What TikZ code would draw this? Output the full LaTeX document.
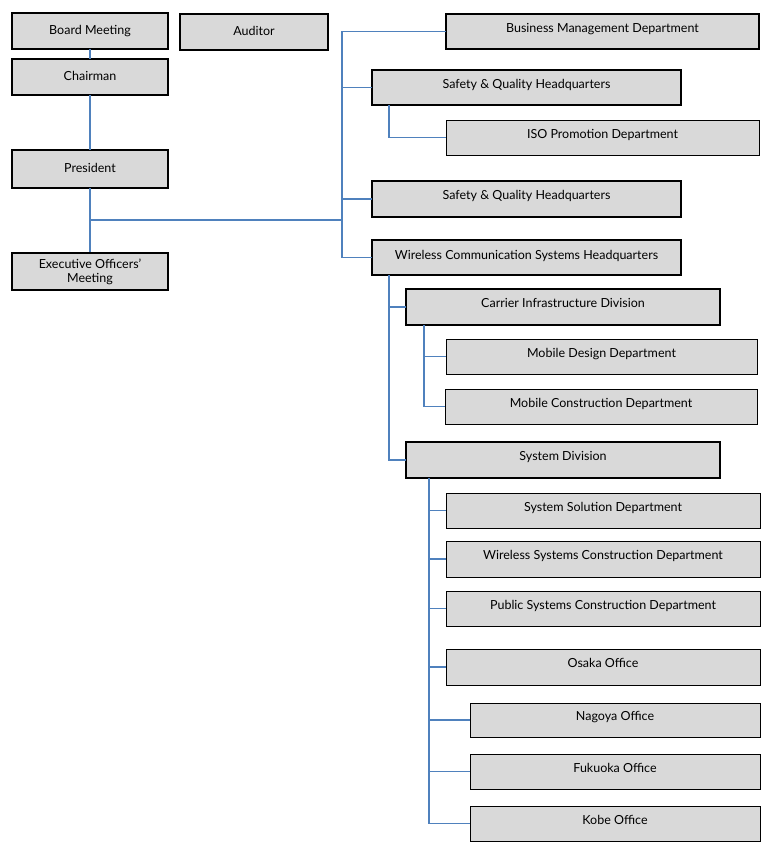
\documentclass[tikz,border=0pt]{standalone}
\usepackage{fontspec}
\setmainfont{Lato}
\definecolor{boxgray}{HTML}{D9D9D9}
\definecolor{linkblue}{HTML}{4F81BD}
\newcommand{\orgbox}[7]{%
  \node[#6, minimum width={(#4-#2)*1pt}, minimum height={(#5-#3)*1pt}] (#1) at ({(#2+#4)/2},{(#3+#5)/2}) {#7};}
\begin{document}
\begin{tikzpicture}[x=1pt,y=-1pt,
  base/.style={draw=black, fill=boxgray, inner sep=0pt, outer sep=0pt,
    font=\fontsize{12.5}{14}\selectfont, text height=9pt, text depth=7.4pt},
  boldbox/.style={base, line width=1.8pt},
  thinbox/.style={base, line width=0.9pt},
  leftbox/.style={boldbox, text depth=2.4pt},
  midbox/.style={boldbox, text depth=4.4pt},
  link/.style={draw=linkblue, line width=1.8pt}]
\useasboundingbox (0,0) rectangle (780,858);
\fill[white] (0,0) rectangle (780,858);
% left column
\orgbox{board}{12}{13}{168}{49}{leftbox}{Board Meeting}
\orgbox{auditor}{180}{14}{328}{50}{leftbox}{Auditor}
\orgbox{chair}{12}{59}{168}{95}{leftbox}{Chairman}
\orgbox{pres}{12}{150}{168}{188}{leftbox}{President}
\node[draw=black, fill=boxgray, inner sep=0pt, line width=2pt, align=center,
  font=\fontsize{12.5}{14}\selectfont, minimum width=156pt, minimum height=37pt]
  (exec) at (90,271.5) {Executive Officers'\\Meeting};
% right side
\orgbox{bmd}{446}{14}{759}{49}{boldbox}{Business Management Department}
\orgbox{sq1}{372}{70}{681}{105}{boldbox}{Safety \& Quality Headquarters}
\orgbox{iso}{446}{120}{759}{155}{thinbox}{ISO Promotion Department}
\orgbox{sq2}{372}{181}{681}{217}{boldbox}{Safety \& Quality Headquarters}
\orgbox{wcs}{372}{240}{681}{275}{midbox}{Wireless Communication Systems Headquarters}
\orgbox{cid}{406}{289}{720}{325}{boldbox}{Carrier Infrastructure Division}
\orgbox{mdd}{446}{339}{757}{374}{thinbox}{Mobile Design Department}
\orgbox{mcd}{445}{389}{757}{424}{thinbox}{Mobile Construction Department}
\orgbox{sysd}{406}{442}{720}{478}{boldbox}{System Division}
\orgbox{ssd}{446}{493}{760}{528}{thinbox}{System Solution Department}
\orgbox{wscd}{446}{541}{760}{577}{thinbox}{Wireless Systems Construction Department}
\orgbox{pscd}{446}{591}{760}{626}{thinbox}{Public Systems Construction Department}
\orgbox{osaka}{446}{649}{760}{685}{thinbox}{Osaka Office}
\orgbox{nagoya}{470}{703}{760}{737}{thinbox}{Nagoya Office}
\orgbox{fukuoka}{470}{754}{760}{789}{thinbox}{Fukuoka Office}
\orgbox{kobe}{470}{806}{760}{841}{thinbox}{Kobe Office}
% connectors
\coordinate (pj) at (90,220);
\coordinate (mj) at (342,220);
\draw[link] (board.south) -- (chair.north);
\draw[link] (chair.south) -- (pres.north);
\draw[link] (pres.south) -- (exec.north);
\draw[link] (pj) -- (mj);
\draw[link] (bmd.west) -| (mj |- wcs.west) -- (wcs.west);
\draw[link] (sq1.west) -- (sq1.west -| mj);
\draw[link] (sq2.west) -- (sq2.west -| mj);
\draw[link] ([xshift=17pt]sq1.south west) |- (iso.west);
\draw[link] ([xshift=17pt]wcs.south west) |- (sysd.west);
\draw[link] ([xshift=17pt]wcs.south west |- cid.west) -- (cid.west);
\draw[link] ([xshift=18pt]cid.south west) |- (mcd.west);
\draw[link] ([xshift=18pt]cid.south west |- mdd.west) -- (mdd.west);
\coordinate (sv) at ([xshift=23pt]sysd.south west);
\draw[link] (sv) |- (kobe.west);
\foreach \n in {ssd,wscd,pscd,osaka,nagoya,fukuoka}
  \draw[link] (sv |- \n.west) -- (\n.west);
\end{tikzpicture}
\end{document}
